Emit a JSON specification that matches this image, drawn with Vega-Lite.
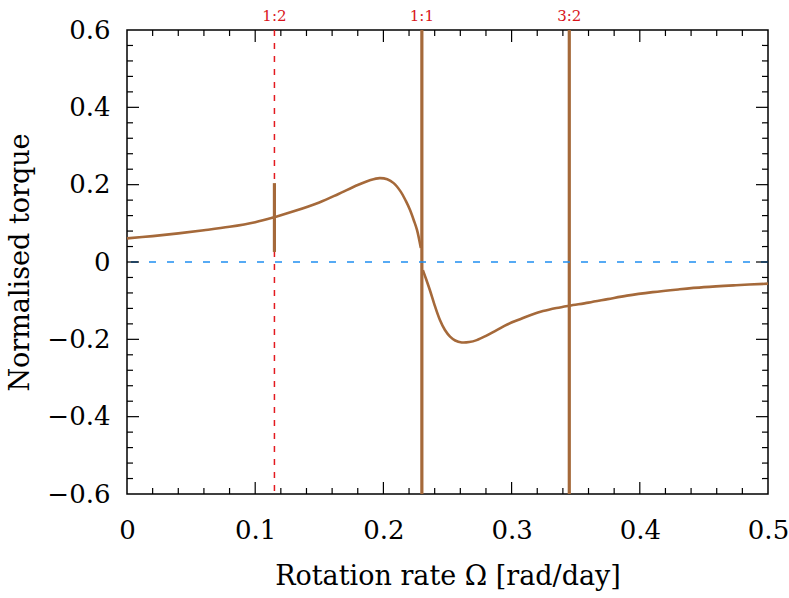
{
  "$schema": "https://vega.github.io/schema/vega-lite/v6.json",
  "width": 641,
  "height": 464,
  "autosize": {"type": "none"},
  "padding": {"left": 127, "top": 30, "right": 21, "bottom": 104},
  "background": "white",
  "datasets": {
    "curve": [
      {"seg": "a", "omega": 0.0, "torque": 0.061},
      {"seg": "a", "omega": 0.02, "torque": 0.067},
      {"seg": "a", "omega": 0.04, "torque": 0.074},
      {"seg": "a", "omega": 0.06, "torque": 0.082},
      {"seg": "a", "omega": 0.08, "torque": 0.091},
      {"seg": "a", "omega": 0.1, "torque": 0.103},
      {"seg": "a", "omega": 0.115, "torque": 0.116},
      {"seg": "a", "omega": 0.13, "torque": 0.131},
      {"seg": "a", "omega": 0.15, "torque": 0.154},
      {"seg": "a", "omega": 0.165, "torque": 0.176},
      {"seg": "a", "omega": 0.18, "torque": 0.199},
      {"seg": "a", "omega": 0.19, "torque": 0.212},
      {"seg": "a", "omega": 0.197, "torque": 0.217},
      {"seg": "a", "omega": 0.203, "torque": 0.214},
      {"seg": "a", "omega": 0.208, "torque": 0.204},
      {"seg": "a", "omega": 0.2135, "torque": 0.182},
      {"seg": "a", "omega": 0.2175, "torque": 0.158},
      {"seg": "a", "omega": 0.2207, "torque": 0.135},
      {"seg": "a", "omega": 0.2237, "torque": 0.108},
      {"seg": "a", "omega": 0.2262, "torque": 0.083},
      {"seg": "a", "omega": 0.2292, "torque": 0.036},
      {"seg": "b", "omega": 0.2308, "torque": -0.021},
      {"seg": "b", "omega": 0.2335, "torque": -0.046},
      {"seg": "b", "omega": 0.2363, "torque": -0.073},
      {"seg": "b", "omega": 0.24, "torque": -0.112},
      {"seg": "b", "omega": 0.2441, "torque": -0.15},
      {"seg": "b", "omega": 0.248, "torque": -0.176},
      {"seg": "b", "omega": 0.252, "torque": -0.193},
      {"seg": "b", "omega": 0.256, "torque": -0.203},
      {"seg": "b", "omega": 0.2611, "torque": -0.208},
      {"seg": "b", "omega": 0.267, "torque": -0.207},
      {"seg": "b", "omega": 0.2728, "torque": -0.202},
      {"seg": "b", "omega": 0.28, "torque": -0.191},
      {"seg": "b", "omega": 0.2884, "torque": -0.176},
      {"seg": "b", "omega": 0.297, "torque": -0.161},
      {"seg": "b", "omega": 0.3066, "torque": -0.148},
      {"seg": "b", "omega": 0.315, "torque": -0.137},
      {"seg": "b", "omega": 0.3245, "torque": -0.127},
      {"seg": "b", "omega": 0.335, "torque": -0.119},
      {"seg": "b", "omega": 0.345, "torque": -0.113},
      {"seg": "b", "omega": 0.36, "torque": -0.105},
      {"seg": "b", "omega": 0.375, "torque": -0.096},
      {"seg": "b", "omega": 0.39, "torque": -0.087},
      {"seg": "b", "omega": 0.41, "torque": -0.078},
      {"seg": "b", "omega": 0.43, "torque": -0.071},
      {"seg": "b", "omega": 0.45, "torque": -0.065},
      {"seg": "b", "omega": 0.475, "torque": -0.06},
      {"seg": "b", "omega": 0.5, "torque": -0.056}
    ],
    "shortSpike": [
      {"omega": 0.115, "lo": 0.026, "hi": 0.204}
    ],
    "fullSpikes": [
      {"omega": 0.23, "lo": -0.6, "hi": 0.6},
      {"omega": 0.345, "lo": -0.6, "hi": 0.6}
    ],
    "resonances": [
      {"label": "1:2", "omega": 0.115},
      {"label": "1:1", "omega": 0.23},
      {"label": "3:2", "omega": 0.345}
    ],
    "dashed": [{"omega": 0.115}],
    "xMajor": [{"v": 0.1}, {"v": 0.2}, {"v": 0.3}, {"v": 0.4}],
    "xMinor": [{"v": 0.02}, {"v": 0.04}, {"v": 0.06}, {"v": 0.08}, {"v": 0.12}, {"v": 0.14}, {"v": 0.16}, {"v": 0.18}, {"v": 0.22}, {"v": 0.24}, {"v": 0.26}, {"v": 0.28}, {"v": 0.32}, {"v": 0.34}, {"v": 0.36}, {"v": 0.38}, {"v": 0.42}, {"v": 0.44}, {"v": 0.46}, {"v": 0.48}],
    "yMajor": [{"v": -0.4}, {"v": -0.2}, {"v": 0}, {"v": 0.2}, {"v": 0.4}],
    "yMinor": [{"v": -0.56}, {"v": -0.52}, {"v": -0.48}, {"v": -0.44}, {"v": -0.36}, {"v": -0.32}, {"v": -0.28}, {"v": -0.24}, {"v": -0.16}, {"v": -0.12}, {"v": -0.08}, {"v": -0.04}, {"v": 0.04}, {"v": 0.08}, {"v": 0.12}, {"v": 0.16}, {"v": 0.24}, {"v": 0.28}, {"v": 0.32}, {"v": 0.36}, {"v": 0.44}, {"v": 0.48}, {"v": 0.52}, {"v": 0.56}]
  },
  "layer": [
    {
      "data": {"name": "dashed"},
      "mark": {"type": "rule", "color": "#e3191f", "strokeWidth": 1.5, "strokeDash": [6, 7]},
      "encoding": {
        "x": {"field": "omega", "type": "quantitative", "scale": {"domain": [0, 0.5], "nice": false, "zero": false}, "axis": null}
      }
    },
    {
      "data": {"name": "curve"},
      "mark": {"type": "line", "color": "#a5693a", "strokeWidth": 2.6, "interpolate": "catmull-rom"},
      "encoding": {
        "detail": {"field": "seg"},
        "x": {
          "field": "omega", "type": "quantitative",
          "scale": {"domain": [0, 0.5], "nice": false, "zero": false},
          "axis": {
            "orient": "bottom",
            "values": [0, 0.1, 0.2, 0.3, 0.4, 0.5],
            "ticks": false,
            "domain": false,
            "labelExpr": "datum.value==0 ? '0' : format(datum.value, '.1f')",
            "labelPadding": 23,
            "labelOverlap": false,
            "labelFlush": false,
            "title": "Rotation rate Ω [rad/day]",
            "titlePadding": 20
          }
        },
        "y": {
          "field": "torque", "type": "quantitative",
          "scale": {"domain": [-0.6, 0.6], "nice": false, "zero": false},
          "axis": {
            "orient": "left",
            "values": [-0.6, -0.4, -0.2, 0, 0.2, 0.4, 0.6],
            "ticks": false,
            "domain": false,
            "labelExpr": "datum.value==0 ? '0' : format(datum.value, '.1f')",
            "labelPadding": 17,
            "labelOverlap": false,
            "labelFlush": false,
            "title": "Normalised torque",
            "titlePadding": 12
          }
        }
      }
    },
    {
      "data": {"name": "shortSpike"},
      "mark": {"type": "rule", "color": "#a5693a", "strokeWidth": 3.2},
      "encoding": {
        "x": {"field": "omega", "type": "quantitative", "axis": null},
        "y": {"field": "lo", "type": "quantitative", "axis": null},
        "y2": {"field": "hi"}
      }
    },
    {
      "data": {"name": "fullSpikes"},
      "mark": {"type": "rule", "color": "#a5693a", "strokeWidth": 3.2},
      "encoding": {
        "x": {"field": "omega", "type": "quantitative", "axis": null},
        "y": {"field": "lo", "type": "quantitative", "axis": null},
        "y2": {"field": "hi"}
      }
    },
    {
      "data": {"values": [{}]},
      "mark": {"type": "rule", "color": "#1f8ef1", "strokeWidth": 1.5, "strokeDash": [7, 11]},
      "encoding": {
        "y": {"datum": 0, "type": "quantitative", "axis": null}
      }
    },
    {
      "data": {"name": "xMajor"},
      "mark": {"type": "rule", "color": "black", "strokeWidth": 1.2, "y2Offset": -12},
      "encoding": {
        "x": {"field": "v", "type": "quantitative", "axis": null},
        "y": {"datum": -0.6, "type": "quantitative", "axis": null},
        "y2": {"datum": -0.6}
      }
    },
    {
      "data": {"name": "xMajor"},
      "mark": {"type": "rule", "color": "black", "strokeWidth": 1.2, "y2Offset": 12},
      "encoding": {
        "x": {"field": "v", "type": "quantitative", "axis": null},
        "y": {"datum": 0.6, "type": "quantitative", "axis": null},
        "y2": {"datum": 0.6}
      }
    },
    {
      "data": {"name": "xMinor"},
      "mark": {"type": "rule", "color": "black", "strokeWidth": 1.2, "y2Offset": -6},
      "encoding": {
        "x": {"field": "v", "type": "quantitative", "axis": null},
        "y": {"datum": -0.6, "type": "quantitative", "axis": null},
        "y2": {"datum": -0.6}
      }
    },
    {
      "data": {"name": "xMinor"},
      "mark": {"type": "rule", "color": "black", "strokeWidth": 1.2, "y2Offset": 6},
      "encoding": {
        "x": {"field": "v", "type": "quantitative", "axis": null},
        "y": {"datum": 0.6, "type": "quantitative", "axis": null},
        "y2": {"datum": 0.6}
      }
    },
    {
      "data": {"name": "yMajor"},
      "mark": {"type": "rule", "color": "black", "strokeWidth": 1.2, "x2Offset": 12},
      "encoding": {
        "y": {"field": "v", "type": "quantitative", "axis": null},
        "x": {"datum": 0, "type": "quantitative", "axis": null},
        "x2": {"datum": 0}
      }
    },
    {
      "data": {"name": "yMajor"},
      "mark": {"type": "rule", "color": "black", "strokeWidth": 1.2, "x2Offset": -12},
      "encoding": {
        "y": {"field": "v", "type": "quantitative", "axis": null},
        "x": {"datum": 0.5, "type": "quantitative", "axis": null},
        "x2": {"datum": 0.5}
      }
    },
    {
      "data": {"name": "yMinor"},
      "mark": {"type": "rule", "color": "black", "strokeWidth": 1.2, "x2Offset": 6},
      "encoding": {
        "y": {"field": "v", "type": "quantitative", "axis": null},
        "x": {"datum": 0, "type": "quantitative", "axis": null},
        "x2": {"datum": 0}
      }
    },
    {
      "data": {"name": "yMinor"},
      "mark": {"type": "rule", "color": "black", "strokeWidth": 1.2, "x2Offset": -6},
      "encoding": {
        "y": {"field": "v", "type": "quantitative", "axis": null},
        "x": {"datum": 0.5, "type": "quantitative", "axis": null},
        "x2": {"datum": 0.5}
      }
    },
    {
      "data": {"name": "resonances"},
      "mark": {"type": "text", "color": "#d9151b", "font": "DejaVu Serif", "fontSize": 15, "baseline": "alphabetic", "align": "center", "dy": -9},
      "encoding": {
        "x": {"field": "omega", "type": "quantitative", "axis": null},
        "y": {"datum": 0.6, "type": "quantitative", "axis": null},
        "text": {"field": "label"}
      }
    }
  ],
  "resolve": {"axis": {"x": "independent", "y": "independent"}},
  "config": {
    "view": {"stroke": "black", "strokeWidth": 1.5},
    "axis": {
      "grid": false,
      "labelFont": "DejaVu Serif",
      "labelFontSize": 26,
      "labelColor": "black",
      "titleFont": "DejaVu Serif",
      "titleFontSize": 27,
      "titleFontWeight": "normal",
      "titleColor": "black"
    }
  }
}
